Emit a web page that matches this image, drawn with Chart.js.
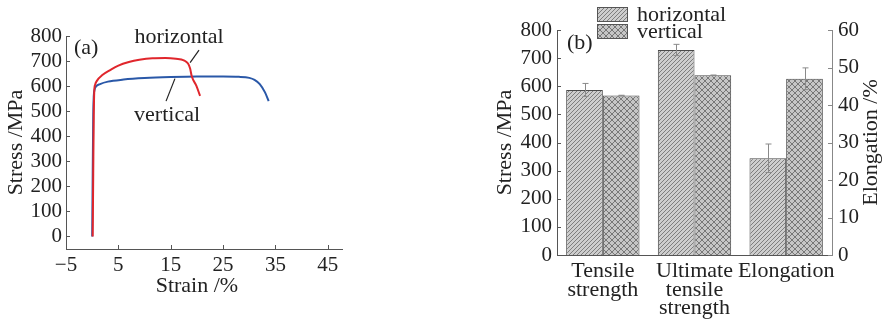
<!DOCTYPE html>
<html>
<head>
<meta charset="utf-8">
<script src="https://cdn.jsdelivr.net/npm/chart.js@4/dist/chart.umd.min.js"></script>
<style>
  html, body { margin: 0; padding: 0; background: #fff; }
  body { width: 883px; height: 320px; position: relative; overflow: hidden; }
  .panel { position: absolute; top: 0; height: 320px; }
  #panelA { left: 0; width: 350px; }
  #panelB { left: 480px; width: 403px; }
</style>
</head>
<body>
<div class="panel" id="panelA"><canvas id="chartStrain" width="350" height="320"></canvas></div>
<div class="panel" id="panelB"><canvas id="chartBars" width="403" height="320"></canvas></div>
<script>
// (a) stress-strain curves
const horizStrain = [0.1, 0.2, 0.3, 0.4, 0.55, 0.9, 2, 3.5, 5, 7, 9, 11.5, 14, 16, 17.5, 18.3, 18.7, 19.0, 19.9, 20.6];
const horizStress = [0, 250, 480, 580, 605, 621, 645, 665, 682, 696, 705, 711, 712, 709, 703, 690, 670, 640, 601, 561];
const vertStrain = [0, 0.1, 0.2, 0.3, 0.45, 0.7, 1.5, 3, 6, 10, 15, 20, 25, 28, 30, 31, 32, 33, 33.7];
const vertStress = [0, 250, 480, 560, 585, 598, 608, 618, 626, 632, 636, 638, 638, 637, 633, 625, 608, 575, 540];
const strainTicks = [-5, 5, 15, 25, 35, 45];
const stressTicks = [0, 100, 200, 300, 400, 500, 600, 700, 800];

// (b) bar values (stress in MPa, elongation in %)
const categories = [["Tensile", "strength"], ["Ultimate", "tensile", "strength"], ["Elongation"]];
const seriesNames = ["horizontal", "vertical"];
const horizStrength = [587, 729, null];
const horizStrengthErr = [23, 20, null];
const vertStrength = [567, 639, null];
const vertStrengthErr = [1, 1, null];
const horizElongation = [null, null, 25.8];
const horizElongationErr = [null, null, 3.8];
const vertElongation = [null, null, 47.0];
const vertElongationErr = [null, null, 2.9];

const FONT = "'Liberation Serif', 'Times New Roman', serif";
const TEXT = "#222";
const WORD = 22; // words
const NUM = 21; // tick numbers
Chart.defaults.font.family = FONT;
Chart.defaults.font.size = NUM;
Chart.defaults.color = TEXT;

const toPoints = (xs, ys) => xs.map((x, i) => ({ x, y: ys[i] }));
const minus = (v) => String(v).replace("-", "\u2212");

// short tick marks pointing into the plot
const inwardTicks = {
    id: "inwardTicks",
    afterDraw(chart, args, opts) {
        const ctx = chart.ctx;
        Object.keys(opts).forEach((id) => {
            const scale = chart.scales[id];
            const o = opts[id];
            if (!scale || !o || !o.length) return;
            ctx.save();
            ctx.strokeStyle = o.color;
            ctx.lineWidth = 1;
            ctx.beginPath();
            scale.ticks.forEach((t) => {
                const p = Math.round(scale.getPixelForValue(t.value)) + 0.5;
                if (scale.isHorizontal()) {
                    ctx.moveTo(p, scale.top);
                    ctx.lineTo(p, scale.top - o.length);
                } else if (scale.position === "left") {
                    ctx.moveTo(scale.right, p);
                    ctx.lineTo(scale.right + o.length, p);
                } else {
                    ctx.moveTo(scale.left, p);
                    ctx.lineTo(scale.left - o.length, p);
                }
            });
            ctx.stroke();
            ctx.restore();
        });
    },
};

// ---------- (a) ----------
const curveNotes = [
    { text: "horizontal", at: [16.6, 796], from: [20.4, 744], to: [18.7, 694] },
    { text: "vertical", at: [14.3, 484], from: [14.1, 540], to: [15.8, 630] },
];

const curveLabels = {
    id: "curveLabels",
    afterDraw(chart) {
        const { ctx, chartArea } = chart;
        const x = chart.scales.x;
        const y = chart.scales.y;
        ctx.save();
        ctx.font = WORD + "px " + FONT;
        ctx.fillStyle = TEXT;
        ctx.strokeStyle = "#222";
        ctx.lineWidth = 1.2;
        ctx.textAlign = "center";
        ctx.textBaseline = "middle";
        curveNotes.forEach((n) => {
            ctx.fillText(n.text, x.getPixelForValue(n.at[0]), y.getPixelForValue(n.at[1]));
            ctx.beginPath();
            ctx.moveTo(x.getPixelForValue(n.from[0]), y.getPixelForValue(n.from[1]));
            ctx.lineTo(x.getPixelForValue(n.to[0]), y.getPixelForValue(n.to[1]));
            ctx.stroke();
        });
        // axis title, centred under the labelled ticks
        const mid = (x.getPixelForValue(strainTicks[0]) + x.getPixelForValue(strainTicks[strainTicks.length - 1])) / 2;
        ctx.fillText("Strain /%", mid, 286);
        ctx.textAlign = "left";
        ctx.fillText("(a)", chartArea.left + 8, chartArea.top + 12);
        ctx.restore();
    },
};

new Chart(document.getElementById("chartStrain"), {
    type: "line",
    data: {
        datasets: [
            {
                label: "horizontal",
                data: toPoints(horizStrain, horizStress),
                borderColor: "#e0262c",
                borderWidth: 2,
                pointRadius: 0,
                cubicInterpolationMode: "monotone",
            },
            {
                label: "vertical",
                data: toPoints(vertStrain, vertStress),
                borderColor: "#2a58a8",
                borderWidth: 2,
                pointRadius: 0,
                cubicInterpolationMode: "monotone",
            },
        ],
    },
    options: {
        responsive: false,
        animation: false,
        layout: { padding: { top: 36, right: 8, left: 0, bottom: 0 } },
        plugins: {
            legend: { display: false },
            tooltip: { enabled: false },
            inwardTicks: {
                x: { length: 4, color: "#555" },
                y: { length: 4, color: "#555" },
            },
        },
        scales: {
            x: {
                type: "linear",
                min: -5,
                max: 47.7,
                afterBuildTicks: (scale) => {
                    scale.ticks = strainTicks.map((v) => ({ value: v }));
                },
                afterFit: (scale) => {
                    scale.height = 71;
                },
                grid: { display: false, drawTicks: false },
                border: { display: true, color: "#555", width: 1 },
                ticks: {
                    padding: 4,
                    maxRotation: 0,
                    autoSkip: false,
                    callback: (v) => minus(v),
                    font: { size: NUM, lineHeight: "24px" },
                },
            },
            y: {
                min: -50,
                max: 800,
                afterBuildTicks: (scale) => {
                    scale.ticks = stressTicks.map((v) => ({ value: v }));
                },
                afterFit: (scale) => {
                    scale.width = 66;
                },
                grid: { display: false, drawTicks: false },
                border: { display: true, color: "#555", width: 1 },
                ticks: { padding: 4, autoSkip: false, font: { size: NUM } },
                title: {
                    display: true,
                    text: "Stress /MPa",
                    padding: { top: 4, bottom: 0 },
                    font: { size: WORD, lineHeight: "24px" },
                },
            },
        },
    },
    plugins: [inwardTicks, curveLabels],
});

// ---------- (b) ----------
function hatch(kind) {
    const s = kind === "diag" ? 4 : 6;
    const c = document.createElement("canvas");
    c.width = s;
    c.height = s;
    const g = c.getContext("2d");
    g.fillStyle = kind === "diag" ? "#cdcdcd" : "#c6c6c6";
    g.fillRect(0, 0, s, s);
    g.strokeStyle = kind === "diag" ? "#7d7d7d" : "#777";
    g.lineWidth = 1;
    g.beginPath();
    g.moveTo(-1, s + 1); g.lineTo(s + 1, -1);
    if (kind === "cross") {
        g.moveTo(-1, -1); g.lineTo(s + 1, s + 1);
    }
    g.stroke();
    return g.createPattern(c, "repeat");
}
const diagFill = hatch("diag");
const crossFill = hatch("cross");
const seriesFills = [diagFill, crossFill];

const errorBars = {
    id: "errorBars",
    afterDatasetsDraw(chart) {
        const ctx = chart.ctx;
        ctx.save();
        ctx.strokeStyle = "#8a8a8a";
        ctx.lineWidth = 1;
        chart.data.datasets.forEach((ds, di) => {
            const meta = chart.getDatasetMeta(di);
            const scale = chart.scales[ds.yAxisID];
            meta.data.forEach((bar, i) => {
                const v = ds.data[i];
                const e = ds.errors[i];
                if (v == null || e == null) return;
                const x = Math.round(bar.x) + 0.5;
                const yt = scale.getPixelForValue(v + e);
                const yb = scale.getPixelForValue(v - e);
                ctx.beginPath();
                ctx.moveTo(x, yt); ctx.lineTo(x, yb);
                ctx.moveTo(x - 3, yt); ctx.lineTo(x + 3, yt);
                ctx.moveTo(x - 3, yb); ctx.lineTo(x + 3, yb);
                ctx.stroke();
            });
        });
        ctx.restore();
    },
};

const barExtras = {
    id: "barExtras",
    afterDraw(chart) {
        const { ctx, chartArea } = chart;
        ctx.save();
        ctx.font = WORD + "px " + FONT;
        ctx.fillStyle = TEXT;
        ctx.textBaseline = "middle";
        // legend
        seriesNames.forEach((name, i) => {
            const top = 7 + i * 17;
            ctx.fillStyle = seriesFills[i];
            ctx.fillRect(117, top, 31, 15);
            ctx.strokeStyle = "#555";
            ctx.strokeRect(117.5, top + 0.5, 30, 14);
            ctx.fillStyle = TEXT;
            ctx.fillText(name, 157, top + 8);
        });
        ctx.fillText("(b)", chartArea.left + 10, chartArea.top + 13);
        // right axis title, reading upwards
        ctx.translate(391, (chartArea.top + chartArea.bottom) / 2);
        ctx.rotate(-Math.PI / 2);
        ctx.textAlign = "center";
        ctx.fillText("Elongation /%", 0, 0);
        ctx.restore();
    },
};

const barStyle = (fill) => ({
    backgroundColor: fill,
    borderColor: "#4a4a4a",
    borderWidth: 1,
    skipNull: true,
    barPercentage: 1.0,
    categoryPercentage: 0.8,
});

new Chart(document.getElementById("chartBars"), {
    type: "bar",
    data: {
        labels: categories,
        datasets: [
            { label: seriesNames[0], data: horizStrength, errors: horizStrengthErr, yAxisID: "y", ...barStyle(diagFill) },
            { label: seriesNames[0], data: horizElongation, errors: horizElongationErr, yAxisID: "y1", ...barStyle(diagFill) },
            { label: seriesNames[1], data: vertStrength, errors: vertStrengthErr, yAxisID: "y", ...barStyle(crossFill) },
            { label: seriesNames[1], data: vertElongation, errors: vertElongationErr, yAxisID: "y1", ...barStyle(crossFill) },
        ],
    },
    options: {
        responsive: false,
        animation: false,
        layout: { padding: { top: 30, right: 0, left: 0, bottom: 0 } },
        plugins: {
            legend: { display: false },
            tooltip: { enabled: false },
            inwardTicks: {
                y: { length: 4, color: "#555" },
                y1: { length: 4, color: "#888" },
            },
        },
        scales: {
            x: {
                afterFit: (scale) => {
                    scale.height = 65;
                },
                grid: { display: false, drawTicks: false },
                border: { display: true, color: "#555", width: 1 },
                ticks: {
                    padding: 7,
                    maxRotation: 0,
                    autoSkip: false,
                    font: { size: WORD, lineHeight: "18.5px" },
                },
            },
            y: {
                position: "left",
                min: 0,
                max: 800,
                ticks: { stepSize: 100, padding: 5, autoSkip: false, font: { size: NUM } },
                afterFit: (scale) => {
                    scale.width = 77;
                },
                grid: { display: false, drawTicks: false },
                border: { display: true, color: "#555", width: 1 },
                title: {
                    display: true,
                    text: "Stress /MPa",
                    padding: { top: 13, bottom: 0 },
                    font: { size: WORD, lineHeight: "24px" },
                },
            },
            y1: {
                position: "right",
                min: 0,
                max: 60,
                ticks: { stepSize: 10, padding: 6, autoSkip: false, font: { size: NUM } },
                afterFit: (scale) => {
                    scale.width = 51;
                },
                grid: { display: false, drawTicks: false },
                border: { display: true, color: "#888", width: 1 },
            },
        },
    },
    plugins: [inwardTicks, errorBars, barExtras],
});
</script>
</body>
</html>
